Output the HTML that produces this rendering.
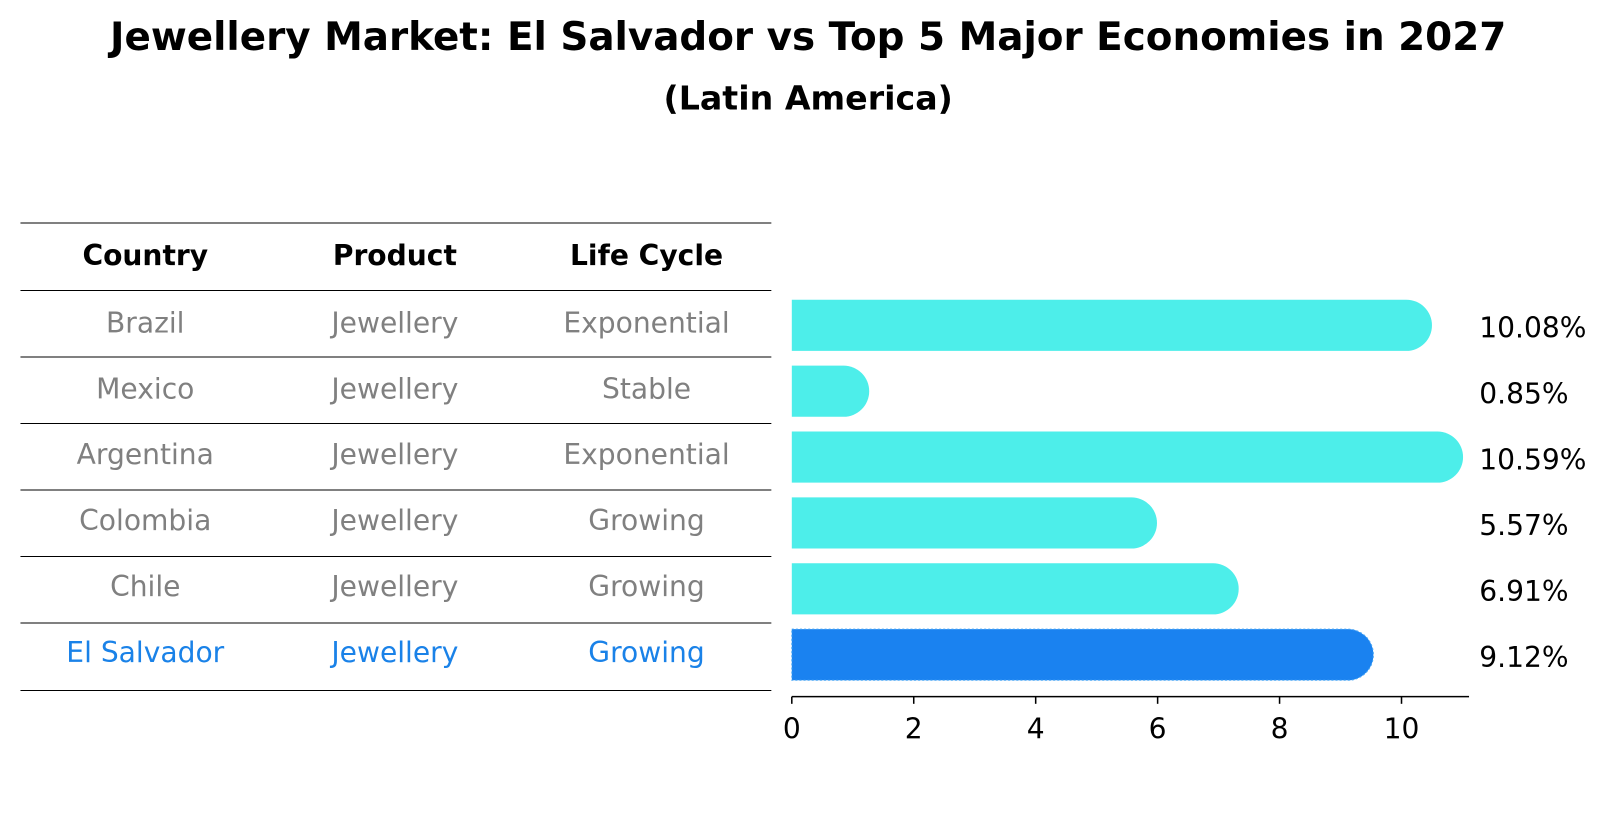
<!DOCTYPE html>
<html><head><meta charset="utf-8"><style>
body{margin:0;background:#fff;font-family:"Liberation Sans","DejaVu Sans",sans-serif}
</style></head><body>
<svg id="chart" width="1604" height="823" xmlns="http://www.w3.org/2000/svg" font-family="DejaVu Sans, Liberation Sans, sans-serif">
<g transform="scale(1.023)">
<text x="790" y="49" text-anchor="middle" font-size="38" font-weight="bold">Jewellery Market: El Salvador vs Top 5 Major Economies in 2027</text>
<text x="790" y="107" text-anchor="middle" font-size="32.5" font-weight="bold">(Latin America)</text>
<g id="table"></g>
<g id="bars"></g>
</g>
</svg>
<script>
const countries=["Brazil","Mexico","Argentina","Colombia","Chile","El Salvador"];
const products=["Jewellery","Jewellery","Jewellery","Jewellery","Jewellery","Jewellery"];
const lifeCycles=["Exponential","Stable","Exponential","Growing","Growing","Growing"];
const values=[10.08,0.85,10.59,5.57,6.91,9.12];
const ticks=[0,2,4,6,8,10];
const NS="http://www.w3.org/2000/svg";
const FS=27.5;
function mk(tag,attrs,parent,text){const e=document.createElementNS(NS,tag);for(const k in attrs)e.setAttribute(k,attrs[k]);if(text!==undefined)e.textContent=text;parent.appendChild(e);return e;}
const x0=774,ppu=59.6;
const xs=v=>x0+v*ppu;
const rowY=i=>318+i*64.4;
const table=document.getElementById('table');
const lines=[218,284,349,414,479,544,609,675];
lines.forEach(y=>{const l=mk('line',{x1:20,x2:754,y1:y,y2:y,stroke:'#000','stroke-width':1},table);

});
const colX=[142,386,632];
["Country","Product","Life Cycle"].forEach((h,j)=>{const t=mk('text',{x:colX[j],y:259,'text-anchor':'middle','font-size':FS,'font-weight':'bold'},table,h);

});
countries.forEach((c,i)=>{const col=i===countries.length-1?'#1a82e8':'#808080';
[c,products[i],lifeCycles[i]].forEach((v,j)=>{const t=mk('text',{x:colX[j],y:rowY(i)+7,'text-anchor':'middle','font-size':FS,fill:col},table,v);

});});
const bars=document.getElementById('bars');
const h=50,r=25;
values.forEach((v,i)=>{const yc=rowY(i),xe=xs(v);const last=i===values.length-1;
const p=mk('path',{d:`M${x0},${yc-h/2} L${xe},${yc-h/2} A${r},${r} 0 0 1 ${xe},${yc+h/2} L${x0},${yc+h/2} Z`,fill:last?'#1a82f0':'#4deeea',stroke:last?'#4aa8f5':'none','stroke-dasharray':'2,2','stroke-width':1},bars);


const t=mk('text',{x:1446,y:yc+12,'font-size':FS},bars,v.toFixed(2)+'%');

});
const ax=mk('line',{x1:x0,x2:1436,y1:681,y2:681,stroke:'#000','stroke-width':1.5},bars);


ticks.forEach(tv=>{const x=xs(tv);
const tk=mk('line',{x1:x,x2:x,y1:681,y2:688,stroke:'#000','stroke-width':1.5},bars);


const tl=mk('text',{x:x,y:722,'text-anchor':'middle','font-size':FS},bars,String(tv));

});
</script>
</body></html>
